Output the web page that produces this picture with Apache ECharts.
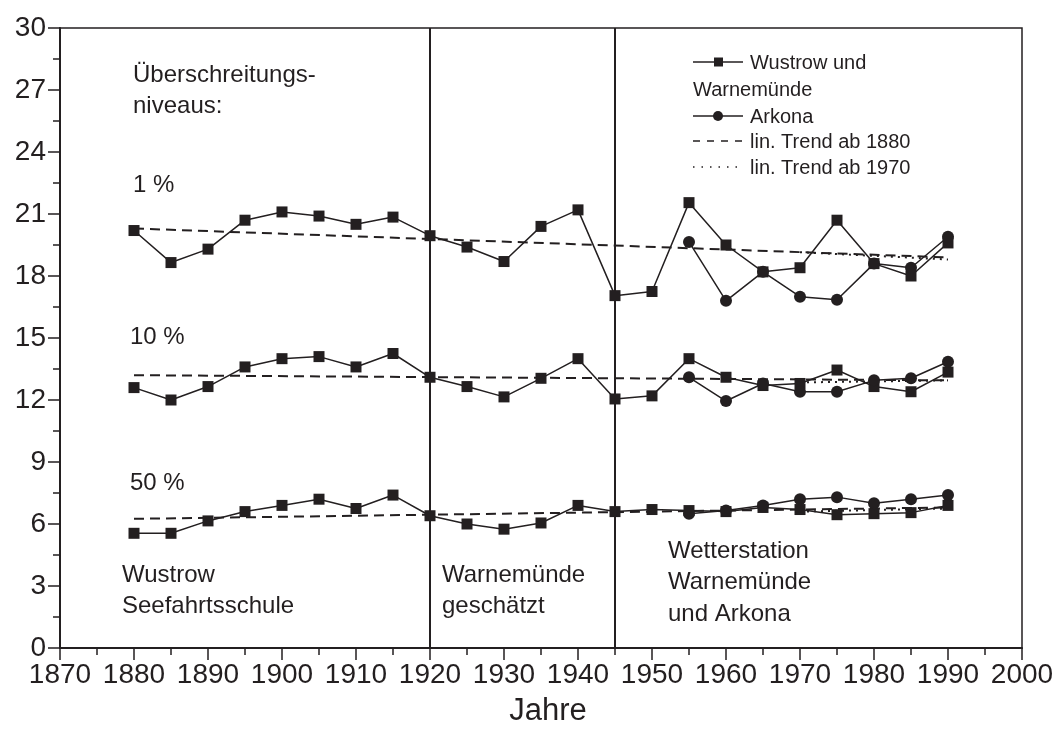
<!DOCTYPE html>
<html>
<head>
<meta charset="utf-8">
<script src="https://cdn.jsdelivr.net/npm/echarts@6/dist/echarts.min.js"></script>
<style>
  html, body { margin: 0; padding: 0; background: #fff; }
  #chart { width: 1059px; height: 742px; }
</style>
</head>
<body>
<div id="chart"></div>
<script>
// Jahre der Messreihen
var years = [1880, 1885, 1890, 1895, 1900, 1905, 1910, 1915, 1920, 1925, 1930, 1935,
  1940, 1945, 1950, 1955, 1960, 1965, 1970, 1975, 1980, 1985, 1990]
var arkonaYears = [1955, 1960, 1965, 1970, 1975, 1980, 1985, 1990]

// Wustrow und Warnemünde
var wustrow1 = [20.2, 18.65, 19.3, 20.7, 21.1, 20.9, 20.5, 20.85, 19.95, 19.4, 18.7, 20.4,
  21.2, 17.05, 17.25, 21.55, 19.5, 18.2, 18.4, 20.7, 18.6, 18.0, 19.6]
var wustrow10 = [12.6, 12.0, 12.65, 13.6, 14.0, 14.1, 13.6, 14.25, 13.1, 12.65, 12.15, 13.05,
  14.0, 12.05, 12.2, 14.0, 13.1, 12.7, 12.8, 13.45, 12.65, 12.4, 13.35]
var wustrow50 = [5.55, 5.55, 6.15, 6.6, 6.9, 7.2, 6.75, 7.4, 6.4, 6.0, 5.75, 6.05,
  6.9, 6.6, 6.7, 6.65, 6.6, 6.8, 6.7, 6.45, 6.5, 6.55, 6.9]

// Arkona
var arkona1 = [19.65, 16.8, 18.2, 17.0, 16.85, 18.6, 18.4, 19.9]
var arkona10 = [13.1, 11.95, 12.8, 12.4, 12.4, 12.95, 13.05, 13.85]
var arkona50 = [6.5, 6.65, 6.9, 7.2, 7.3, 7.0, 7.2, 7.4]

// lineare Trends [Anfang, Ende]
var trend1880Years = [1880, 1990]
var trend1880 = { p1: [20.3, 18.9], p10: [13.2, 12.95], p50: [6.25, 6.8] }
var trend1970Years = [1970, 1990]
var trend1970 = { p1: [19.15, 18.8], p10: [12.85, 12.95], p50: [6.6, 6.75] }

// Zeitabschnitte
var periodBounds = [1920, 1945]

var ink = '#231f20'
var font = 'Liberation Sans, Arial, sans-serif'

function pairs(xs, ys) {
  return xs.map(function (x, i) { return [x, ys[i]] })
}

function dataSeries(name, xs, ys, symbol, size) {
  return {
    name: name,
    type: 'line',
    data: pairs(xs, ys),
    symbol: symbol,
    symbolSize: size,
    lineStyle: { color: ink, width: 1.5 },
    itemStyle: { color: ink },
    z: 3
  }
}

function trendSeries(name, xs, ys, dash) {
  return {
    name: name,
    type: 'line',
    data: pairs(xs, ys),
    symbol: 'none',
    lineStyle: { color: ink, width: 2, type: dash },
    z: 2
  }
}

var series = [
  dataSeries('Wustrow 1%', years, wustrow1, 'rect', 11),
  dataSeries('Wustrow 10%', years, wustrow10, 'rect', 11),
  dataSeries('Wustrow 50%', years, wustrow50, 'rect', 11),
  dataSeries('Arkona 1%', arkonaYears, arkona1, 'circle', 12),
  dataSeries('Arkona 10%', arkonaYears, arkona10, 'circle', 12),
  dataSeries('Arkona 50%', arkonaYears, arkona50, 'circle', 12),
  trendSeries('Trend 1880 1%', trend1880Years, trend1880.p1, [10, 6]),
  trendSeries('Trend 1880 10%', trend1880Years, trend1880.p10, [10, 6]),
  trendSeries('Trend 1880 50%', trend1880Years, trend1880.p50, [10, 6]),
  trendSeries('Trend 1970 1%', trend1970Years, trend1970.p1, [2, 5]),
  trendSeries('Trend 1970 10%', trend1970Years, trend1970.p10, [2, 5]),
  trendSeries('Trend 1970 50%', trend1970Years, trend1970.p50, [2, 5])
]

// senkrechte Trennlinien der Zeitabschnitte
series[0].markLine = {
  silent: true,
  symbol: 'none',
  label: { show: false },
  lineStyle: { color: ink, width: 2, type: 'solid' },
  data: periodBounds.map(function (x) { return { xAxis: x } })
}

function label(text, x, y, size) {
  return {
    type: 'text',
    left: x,
    top: y,
    style: { text: text, font: size + 'px ' + font, fill: ink, lineHeight: size * 1.3 }
  }
}

var legendX = 693
var legendText = 750
var legend = [
  { type: 'line', shape: { x1: legendX, y1: 62, x2: legendX + 50, y2: 62 }, style: { stroke: ink, lineWidth: 1.5 } },
  { type: 'rect', shape: { x: legendX + 21, y: 57.5, width: 9, height: 9 }, style: { fill: ink } },
  { type: 'line', shape: { x1: legendX, y1: 116, x2: legendX + 50, y2: 116 }, style: { stroke: ink, lineWidth: 1.5 } },
  { type: 'circle', shape: { cx: legendX + 25, cy: 116, r: 5 }, style: { fill: ink } },
  { type: 'line', shape: { x1: legendX, y1: 141, x2: legendX + 50, y2: 141 }, style: { stroke: ink, lineWidth: 1.5, lineDash: [7, 7] } },
  { type: 'line', shape: { x1: legendX, y1: 167, x2: legendX + 50, y2: 167 }, style: { stroke: ink, lineWidth: 1.5, lineDash: [1.5, 7] } },
  label('Wustrow und', legendText, 50, 20),
  label('Warnemünde', legendX, 77, 20),
  label('Arkona', legendText, 104, 20),
  label('lin. Trend ab 1880', legendText, 129, 20),
  label('lin. Trend ab 1970', legendText, 155, 20)
]

var notes = [
  label('Überschreitungs-\nniveaus:', 133, 60, 24),
  label('1 %', 133, 170, 24),
  label('10 %', 130, 322, 24),
  label('50 %', 130, 468, 24),
  label('Wustrow\nSeefahrtsschule', 122, 560, 24),
  label('Warnemünde\ngeschätzt', 442, 560, 24),
  label('Wetterstation\nWarnemünde\nund Arkona', 668, 536, 24)
]

var chart = echarts.init(document.getElementById('chart'))
chart.setOption({
  animation: false,
  grid: {
    left: 60, right: 37, top: 28, bottom: 94,
    show: true, borderColor: ink, borderWidth: 1.5
  },
  xAxis: {
    type: 'value',
    min: 1870,
    max: 2000,
    interval: 10,
    name: 'Jahre',
    nameLocation: 'middle',
    nameGap: 48,
    nameTextStyle: { color: ink, fontSize: 31, fontFamily: font, padding: [0, 0, 0, 14] },
    axisLine: { lineStyle: { color: ink, width: 2 } },
    axisTick: { inside: false, length: 12, lineStyle: { color: ink, width: 1.5 } },
    minorTick: { show: true, splitNumber: 2, length: 7, lineStyle: { color: ink, width: 1.5 } },
    axisLabel: { color: ink, fontSize: 28, fontFamily: font, margin: 13, formatter: function (v) { return String(v) } },
    splitLine: { show: false }
  },
  yAxis: {
    type: 'value',
    min: 0,
    max: 30,
    interval: 3,
    axisLine: { show: true, lineStyle: { color: ink, width: 2 } },
    axisTick: { show: true, inside: false, length: 12, lineStyle: { color: ink, width: 1.5 } },
    minorTick: { show: true, splitNumber: 2, length: 7, lineStyle: { color: ink, width: 1.5 } },
    axisLabel: { color: ink, fontSize: 28, fontFamily: font, margin: 14 },
    splitLine: { show: false }
  },
  graphic: legend.concat(notes),
  series: series
})
</script>
</body>
</html>
